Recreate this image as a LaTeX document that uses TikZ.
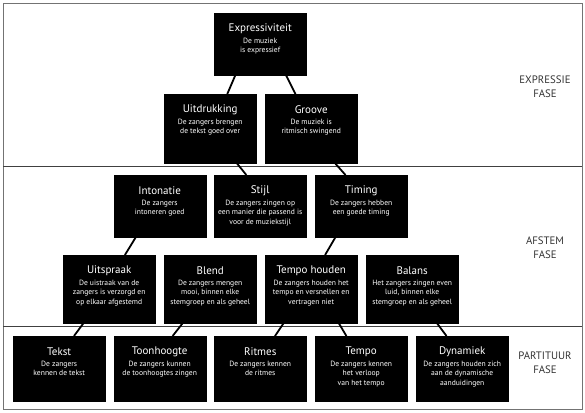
\documentclass[tikz,border=0pt]{standalone}
\usepackage{fontspec}
\setmainfont{PT Sans}
\usetikzlibrary{calc}
\tikzset{
  box/.style={fill=black, draw=black, minimum width=92pt, inner sep=0pt, anchor=north west},
  ttl/.style={text=white, font=\fontsize{11}{12}\selectfont, anchor=center, inner sep=0pt},
  sub/.style={text=white, font=\fontsize{7.6}{9.4}\selectfont, align=center, anchor=north, inner sep=0pt},
  link/.style={line width=1.8pt},
  phase/.style={font=\fontsize{10.8}{14}\selectfont, align=center, text=black!80, inner sep=0pt},
  frame/.style={draw=black!55, line width=0.9pt},
  divider/.style={draw=black!75, line width=0.9pt}
}
\newcommand\mybox[6]{%
  \node[box, minimum height=#4pt] (#1) at (#2,#3) {};
  \node[ttl] (#1-t) at ($(#1.north)+(0,15.5)$) {#5};
  \node[sub] (#1-s) at ($(#1.north)+(0,24.8)$) {#6};
}
\newcommand\lnk[4]{\draw[link] ($(#1.south west)!#2!(#1.south east)$) -- ($(#3.north west)!#4!(#3.north east)$);}
\begin{document}
\begin{tikzpicture}[x=1pt,y=-1pt]
\useasboundingbox (0,0) rectangle (585,412);
\fill[white] (0,0) rectangle (585,412);
\draw[frame] (3,3) rectangle (582,409);
\draw[divider] (3,166) -- (582,166);
\draw[divider] (3,326) -- (582,326);

% top
\mybox{ex}{214}{13}{62}{Expressiviteit}{De muziek\\is expressief}
% row 1
\mybox{ui}{164}{94}{69}{Uitdrukking}{De zangers brengen\\de tekst goed over}
\mybox{gr}{265}{94}{69}{Groove}{De muziek is\\ritmisch swingend}
% row 2
\mybox{into}{113.5}{175}{62}{Intonatie}{De zangers\\intoneren goed}
\mybox{st}{214}{175}{62}{Stijl}{De zangers zingen op\\een manier die passend is\\voor de muziekstijl}
\mybox{ti}{315}{175}{62}{Timing}{De zangers hebben\\een goede timing}
% row 3
\mybox{us}{63}{255}{68}{Uitspraak}{De uistraak van de\\zangers is verzorgd en\\op elkaar afgestemd}
\mybox{bl}{164}{255}{68}{Blend}{De zangers mengen\\mooi, binnen elke\\stemgroep en als geheel}
\mybox{th}{265}{255}{68}{Tempo houden}{De zangers houden het\\tempo en versnellen en\\vertragen niet}
\mybox{ba}{366}{255}{68}{Balans}{Het zangers zingen even\\luid, binnen elke\\stemgroep en als geheel}
% row 4
\mybox{te}{13}{336}{65}{Tekst}{De zangers\\kennen de tekst}
\mybox{to}{113.5}{336}{65}{Toonhoogte}{De zangers kunnen\\de toonhoogtes zingen}
\mybox{ri}{214}{336}{65}{Ritmes}{De zangers kennen\\de ritmes}
\mybox{tp}{315}{336}{65}{Tempo}{De zangers kennen\\het verloop\\van het tempo}
\mybox{dy}{416}{336}{65}{Dynamiek}{De zangers houden zich\\aan de dynamische\\aanduidingen}

% connectors
\lnk{ex}{0.23}{ui}{0.685}
\lnk{ex}{0.78}{gr}{0.33}
\lnk{ui}{0.79}{st}{0.35}
\lnk{gr}{0.76}{ti}{0.33}
\lnk{into}{0.24}{us}{0.67}
\lnk{ti}{0.22}{th}{0.65}
\lnk{us}{0.22}{te}{0.66}
\lnk{bl}{0.2}{to}{0.64}
\lnk{th}{0.2}{ri}{0.66}
\lnk{th}{0.8}{tp}{0.34}
\lnk{ba}{0.77}{dy}{0.33}

% phase labels
\node[phase] (p1) at (545,86.5) {EXPRESSIE\\FASE};
\node[phase] (p2) at (545,247.5) {AFSTEM\\FASE};
\node[phase] (p3) at (545,362.5) {PARTITUUR\\FASE};
\end{tikzpicture}
\end{document}
